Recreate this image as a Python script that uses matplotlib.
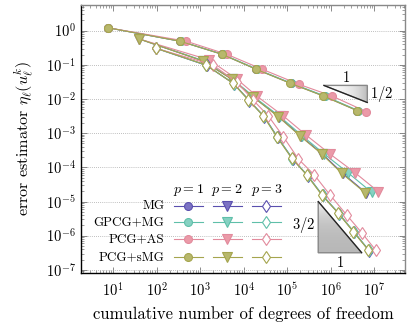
import numpy as np
import matplotlib as mpl
mpl.use('agg')
import matplotlib.pyplot as plt
from matplotlib.patches import Polygon
from matplotlib.colors import LinearSegmentedColormap
from matplotlib.ticker import LogLocator, NullFormatter
from matplotlib.mathtext import MathTextParser

plt.rcParams['font.family'] = 'serif'
plt.rcParams['font.serif'] = ['cmr10']
plt.rcParams['mathtext.fontset'] = 'cm'
plt.rcParams['axes.formatter.use_mathtext'] = True

# solvers and their colours (line, marker face)
solvers = ["MG", "GPCG+MG", "PCG+AS", "PCG+sMG"]
line_colors = ["#5a4fae", "#5fbfa9", "#e28a9c", "#a5a54e"]
face_colors = ["#7b72c4", "#86d1c2", "#eb9aa8", "#b8b86c"]

# p = 1
p1_dofs = {
    "MG":      [7.5, 350, 3200, 19800, 1.20e5, 6.9e5, 4.1e6],
    "GPCG+MG": [7.5, 360, 3300, 20500, 1.25e5, 7.3e5, 4.3e6],
    "PCG+AS":  [7.5, 480, 4100, 27000, 1.86e5, 1.1e6, 6.5e6],
    "PCG+sMG": [7.5, 347, 3160, 19500, 1.17e5, 6.7e5, 4.0e6],
}
p1_eta = {
    "MG":      [1.22, 0.49, 0.204, 0.074, 0.029, 0.0123, 0.0046],
    "GPCG+MG": [1.22, 0.49, 0.204, 0.074, 0.029, 0.0123, 0.0046],
    "PCG+AS":  [1.22, 0.49, 0.204, 0.074, 0.027, 0.0121, 0.0043],
    "PCG+sMG": [1.22, 0.49, 0.204, 0.074, 0.029, 0.0123, 0.0046],
}

# p = 2
p2_dofs = {
    "MG":      [40, 1170, 5450, 17100, 65000, 2.05e5, 6.5e5, 1.9e6, 6.5e6],
    "GPCG+MG": [40, 1200, 5600, 17500, 68000, 2.20e5, 7.2e5, 2.57e6, 8.85e6],
    "PCG+AS":  [40, 1630, 6980, 20100, 82200, 2.74e5, 9.75e5, 3.66e6, 1.26e7],
    "PCG+sMG": [40, 1150, 5360, 16800, 63000, 1.99e5, 6.28e5, 1.81e6, 6.2e6],
}
p2_eta = {
    "MG":      [0.571, 0.130, 0.0378, 0.0112, 0.00303, 8.3e-4, 2.45e-4, 6.7e-5, 1.80e-5],
    "GPCG+MG": [0.571, 0.132, 0.0380, 0.0115, 0.00308, 8.5e-4, 2.45e-4, 6.8e-5, 1.85e-5],
    "PCG+AS":  [0.571, 0.139, 0.0385, 0.0122, 0.00318, 8.8e-4, 2.45e-4, 6.95e-5, 1.93e-5],
    "PCG+sMG": [0.571, 0.130, 0.0378, 0.0112, 0.00303, 8.26e-4, 2.45e-4, 6.67e-5, 1.80e-5],
}

# p = 3
p3_dofs = {
    "MG":      [97.5, 1420, 5950, 13500, 29800, 60500, 1.34e5, 2.97e5, 6.6e5, 1.58e6, 3.5e6, 7.75e6],
    "GPCG+MG": [97.5, 1400, 5900, 13300, 29500, 60000, 1.33e5, 2.95e5, 6.55e5, 1.57e6, 3.48e6, 7.7e6],
    "PCG+AS":  [97.5, 1960, 6980, 16500, 37200, 82200, 1.82e5, 4.25e5, 9.75e5, 2.36e6, 5.2e6, 1.09e7],
    "PCG+sMG": [97.5, 1370, 5740, 12900, 28500, 57900, 1.28e5, 2.84e5, 6.28e5, 1.51e6, 3.34e6, 7.4e6],
}
p3_eta = {
    "MG":      [0.305, 0.096, 0.0280, 0.0090, 0.00305, 7.6e-4, 1.78e-4, 5.7e-5, 1.5e-5, 4.3e-6, 1.25e-6, 3.6e-7],
    "GPCG+MG": [0.305, 0.097, 0.0284, 0.0092, 0.00310, 7.7e-4, 1.80e-4, 5.8e-5, 1.52e-5, 4.4e-6, 1.27e-6, 3.7e-7],
    "PCG+AS":  [0.305, 0.099, 0.0315, 0.00935, 0.00318, 7.87e-4, 1.75e-4, 5.95e-5, 1.55e-5, 4.0e-6, 1.22e-6, 3.78e-7],
    "PCG+sMG": [0.305, 0.099, 0.0288, 0.00935, 0.00318, 7.87e-4, 1.84e-4, 5.95e-5, 1.55e-5, 4.5e-6, 1.30e-6, 3.78e-7],
}

x_ticks = [1e1, 1e2, 1e3, 1e4, 1e5, 1e6, 1e7]
y_ticks = [1e-7, 1e-6, 1e-5, 1e-4, 1e-3, 1e-2, 1e-1, 1e0]

degrees = [1, 2, 3]
all_dofs = [p1_dofs, p2_dofs, p3_dofs]
all_eta = [p1_eta, p2_eta, p3_eta]
markers = ["o", "v", "d"]
msizes = [5.7, 6.5, 6.0]
filled = [True, True, False]

fig = plt.figure(figsize=(4.1, 3.29), dpi=100)
ax = fig.add_axes([0.197, 0.170, 0.791, 0.815])

for k in range(3):
    for i, name in enumerate(solvers):
        fc = face_colors[i] if filled[k] else "white"
        ax.plot(all_dofs[k][name], all_eta[k][name], color=line_colors[i],
                lw=0.8, marker=markers[k], ms=msizes[k], mfc=fc,
                mec=line_colors[i], mew=0.8, zorder=3)


def slope_triangle(ax, pts, hyp, grad, label_pos):
    cmap = LinearSegmentedColormap.from_list("g", ["white", "#b8b8b8"])
    xs = [p[0] for p in pts]
    ys = [p[1] for p in pts]
    poly = Polygon(pts, closed=True, fc="none", ec="#888888", lw=1.0, zorder=2)
    ax.add_patch(poly)
    im = ax.imshow(grad, cmap=cmap, extent=[min(xs), max(xs), min(ys), max(ys)],
                   aspect="auto", origin="lower", zorder=1, interpolation="bilinear")
    im.set_clip_path(poly)
    ax.plot([hyp[0][0], hyp[1][0]], [hyp[0][1], hyp[1][1]], color="#222222",
            lw=0.9, zorder=2)
    for txt, (x, y, ha, va) in label_pos.items():
        ax.text(x, y, txt, ha=ha, va=va, fontsize=10.5)


# slope 1/2 triangle (p = 1)
s1x, s1y = 7.0e5, 0.025
slope_triangle(ax,
               [(s1x, s1y), (s1x * 10, s1y), (s1x * 10, s1y / 10 ** 0.5)],
               [(s1x, s1y), (s1x * 10, s1y / 10 ** 0.5)],
               np.linspace(0, 1, 256).reshape(1, -1),
               {"$1$": (s1x * 10 ** 0.5, s1y * 1.05, "center", "bottom"),
                "$1/2$": (s1x * 11.5, s1y / 10 ** 0.25, "left", "center")})

# slope 3/2 triangle (p = 3)
s2x, s2y = 5.2e5, 1.0e-5
slope_triangle(ax,
               [(s2x, s2y), (s2x, s2y / 10 ** 1.5), (s2x * 10, s2y / 10 ** 1.5)],
               [(s2x, s2y), (s2x * 10, s2y / 10 ** 1.5)],
               np.linspace(1, 0, 256).reshape(-1, 1),
               {"$3/2$": (s2x / 1.2, s2y / 10 ** 0.7, "right", "center"),
                "$1$": (s2x * 10 ** 0.5, s2y / 10 ** 1.5 / 1.15, "center", "top")})

ax.set_xscale("log")
ax.set_yscale("log")
ax.set_xlim(10 ** 0.2575, 10 ** 7.713)
ax.set_ylim(10 ** -7.094, 10 ** 0.7526)

ax.set_xticks(x_ticks)
ax.set_yticks(y_ticks)
ax.xaxis.set_minor_locator(LogLocator(base=10, subs=np.arange(2, 10), numticks=100))
ax.yaxis.set_minor_locator(LogLocator(base=10, subs=np.arange(2, 10), numticks=100))
ax.xaxis.set_minor_formatter(NullFormatter())
ax.yaxis.set_minor_formatter(NullFormatter())
ax.tick_params(which="both", direction="in", top=True, right=True,
               color="#777777", labelsize=10.5)
ax.tick_params(which="major", length=4, width=0.6)
ax.tick_params(which="minor", length=2, width=0.5)
ax.tick_params(axis="x", which="major", pad=6)

ax.yaxis.grid(True, which="major", linestyle=(0, (1, 1.5)), color="#aaaaaa", lw=0.6)
ax.set_axisbelow(True)

for side in ["left", "bottom"]:
    ax.spines[side].set_color("black")
    ax.spines[side].set_linewidth(1.0)
for side in ["top", "right"]:
    ax.spines[side].set_color("#888888")
    ax.spines[side].set_linewidth(1.0)

# underlined k: try a bar fraction, fall back to plain k
ylab = r"error estimator $\eta_\ell(u_\ell^{\genfrac{}{}{0.6}{}{k}{}})$"
try:
    MathTextParser("path").parse(ylab)
except Exception:
    ylab = r"error estimator $\eta_\ell(u_\ell^{k})$"

ax.set_xlabel("cumulative number of degrees of freedom", fontsize=12, labelpad=5)
ax.set_ylabel(ylab, fontsize=11.6, labelpad=7)

# legend table drawn in axes coordinates
lab_x = 0.257
col_x = [(0.286, 0.376), (0.407, 0.496), (0.527, 0.618)]
head_y = 0.310
row_y = [0.251, 0.189, 0.126, 0.061]
for k in range(3):
    x0, x1 = col_x[k]
    ax.text((x0 + x1) / 2, head_y, "$p = %d$" % degrees[k], ha="center",
            va="center", fontsize=10, transform=ax.transAxes)
for i, name in enumerate(solvers):
    ax.text(lab_x, row_y[i], name, ha="right", va="center", fontsize=9.4,
            transform=ax.transAxes)
    for k in range(3):
        x0, x1 = col_x[k]
        fc = face_colors[i] if filled[k] else "white"
        ax.plot([x0, (x0 + x1) / 2, x1], [row_y[i]] * 3, transform=ax.transAxes,
                color=line_colors[i], lw=0.8, marker=markers[k], ms=msizes[k],
                markevery=[1], mfc=fc, mec=line_colors[i], mew=0.8,
                clip_on=False, zorder=4)

fig.savefig("out.png", dpi=100)
